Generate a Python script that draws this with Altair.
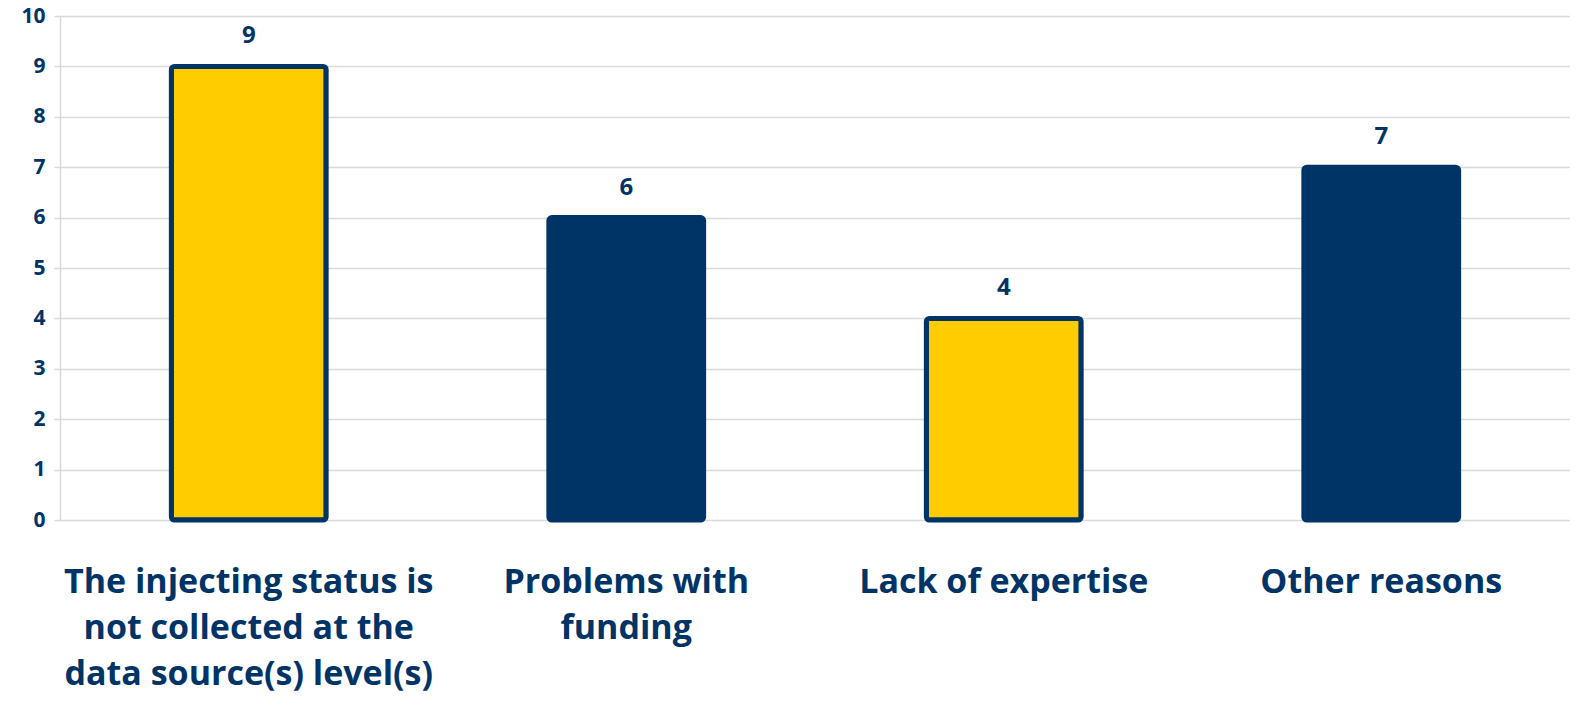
import altair as alt
import pandas as pd

categories = [
    "The injecting status is|not collected at the|data source(s) level(s)",
    "Problems with|funding",
    "Lack of expertise",
    "Other reasons",
]
values = [9, 6, 4, 7]
fills = ["#FFCC00", "#003366", "#FFCC00", "#003366"]

NAVY = "#003366"
FONT = "Open Sans"

df = pd.DataFrame({"cat": categories, "val": values, "fill": fills})

base = alt.Chart(df).encode(
    x=alt.X(
        "cat:N",
        sort=categories,
        title=None,
        scale=alt.Scale(paddingInner=0.59, paddingOuter=0.295),
        axis=alt.Axis(
            labelExpr="split(datum.label, '|')",
            labelAngle=0,
            labelFontSize=34,
            labelFont=FONT,
            labelFontWeight="bold",
            labelColor=NAVY,
            labelLineHeight=46,
            labelPadding=45,
            ticks=False,
            domain=False,
            grid=False,
            labelLimit=500,
        ),
    ),
)

bars = base.mark_bar(
    stroke=NAVY, strokeWidth=5, cornerRadius=3
).encode(
    y=alt.Y(
        "val:Q",
        title=None,
        scale=alt.Scale(domain=[0, 10], nice=False),
        axis=alt.Axis(
            values=list(range(0, 11)),
            labelFontSize=21,
            labelFont=FONT,
            labelFontWeight="bold",
            labelColor=NAVY,
            labelPadding=9,
            tickSize=6,
            tickColor="#d9d9d9",
            tickWidth=1.5,
            domainColor="#d9d9d9",
            domainWidth=1.5,
            gridColor="#d9d9d9",
            gridWidth=1.5,
        ),
    ),
    fill=alt.Fill("fill:N", scale=None),
)

labels = base.mark_text(
    baseline="bottom", dy=-18, fontSize=24, font=FONT, fontWeight="bold", color=NAVY
).encode(
    y="val:Q",
    text="val:Q",
)

chart = (
    (bars + labels)
    .properties(
        width=1510,
        height=504,
        autosize=alt.AutoSizeParams(type="none"),
        padding={"left": 52, "top": 8, "right": 0, "bottom": 177},
    )
    .configure_view(stroke=None)
    .configure(background="white")
)

chart.save("out.html", embed_options={"renderer": "svg", "actions": False})
